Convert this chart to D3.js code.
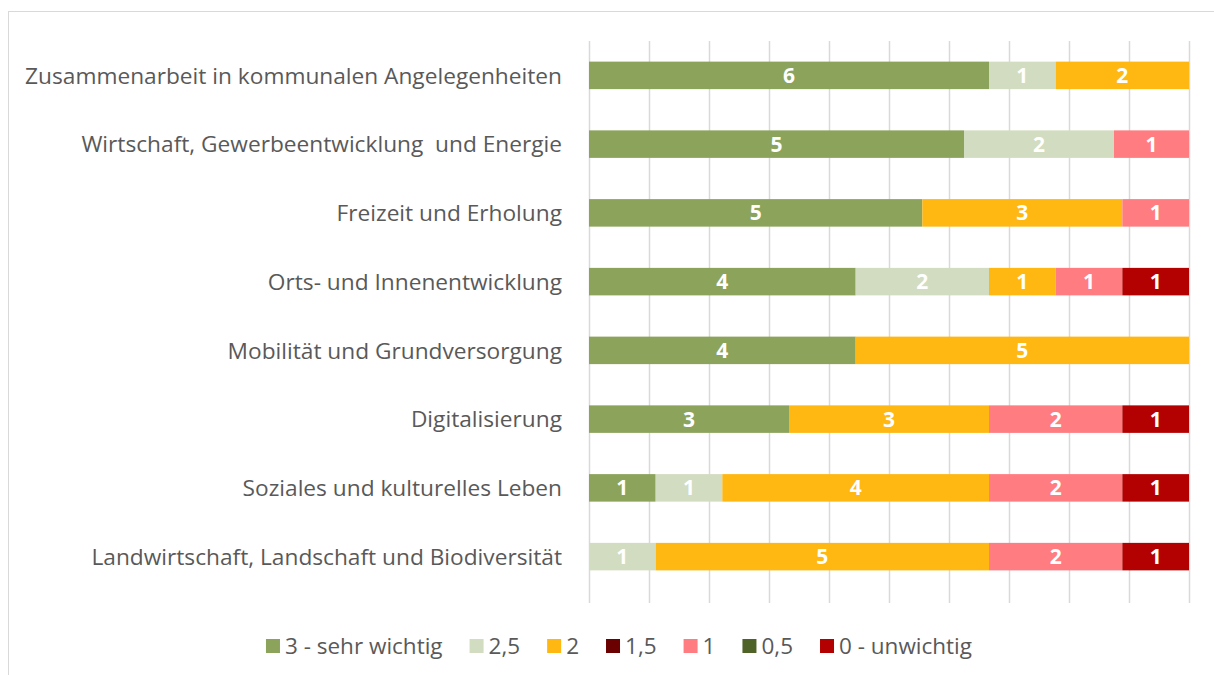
<!DOCTYPE html>
<html>
<head>
<meta charset="utf-8">
<script src="https://cdn.jsdelivr.net/npm/d3@7"></script>
<style>
  body { margin: 0; background: #fff; }
  svg { display: block; font-family: "Open Sans", "Noto Sans", sans-serif; }
  text { white-space: pre; }
</style>
</head>
<body>
<div id="chart"></div>
<script>
// themes, top to bottom
var categories = [
	"Zusammenarbeit in kommunalen Angelegenheiten",
	"Wirtschaft, Gewerbeentwicklung  und Energie",
	"Freizeit und Erholung",
	"Orts- und Innenentwicklung",
	"Mobilität und Grundversorgung",
	"Digitalisierung",
	"Soziales und kulturelles Leben",
	"Landwirtschaft, Landschaft und Biodiversität"
];

var seriesNames = ["3 - sehr wichtig", "2,5", "2", "1,5", "1", "0,5", "0 - unwichtig"];
var seriesColors = ["#8BA35B", "#D2DCC0", "#FFB711", "#6B0000", "#FF7C80", "#4F6228", "#B30000"];

// counts per category for each rating
var s3   = [6, 5, 5, 4, 4, 3, 1, 0];
var s2_5 = [1, 2, 0, 2, 0, 0, 1, 1];
var s2   = [2, 0, 3, 1, 5, 3, 4, 5];
var s1_5 = [0, 0, 0, 0, 0, 0, 0, 0];
var s1   = [0, 1, 1, 1, 0, 2, 2, 2];
var s0_5 = [0, 0, 0, 0, 0, 0, 0, 0];
var s0   = [0, 0, 0, 1, 0, 1, 1, 1];

var seriesValues = [s3, s2_5, s2, s1_5, s1, s0_5, s0];

var rows = categories.map(function(c, i) {
	var r = { name: c };
	seriesNames.forEach(function(s, j) { r[s] = seriesValues[j][i]; });
	return r;
});

var width = 1214, height = 675;

var svg = d3.select("#chart").append("svg")
	.attr("width", width)
	.attr("height", height);

// chart frame (runs off the page on right and bottom)
svg.append("rect")
	.attr("x", 8.5).attr("y", 11.5)
	.attr("width", 1300).attr("height", 800)
	.attr("fill", "none")
	.attr("stroke", "#d9d9d9")
	.attr("stroke-width", 1);

var x = d3.scaleLinear()
	.domain([0, 1])
	.range([589, 1189]);

var y = d3.scaleBand()
	.domain(categories)
	.range([41, 591])
	.paddingInner(0.6)
	.paddingOuter(0.3);

var color = d3.scaleOrdinal().domain(seriesNames).range(seriesColors);

// gridlines
svg.append("g")
	.selectAll("line")
	.data(d3.range(0, 11).map(function(d) { return d / 10; }))
	.enter().append("line")
	  .attr("x1", function(d) { return Math.round(x(d)) + 0.5; })
	  .attr("x2", function(d) { return Math.round(x(d)) + 0.5; })
	  .attr("y1", 41)
	  .attr("y2", 603)
	  .attr("stroke", "#d9d9d9")
	  .attr("stroke-width", 1.5);

var stack = d3.stack()
	.keys(seriesNames)
	.offset(d3.stackOffsetExpand);

var layers = stack(rows);

var layer = svg.append("g")
	.selectAll("g")
	.data(layers)
	.enter().append("g")
	  .attr("fill", function(d) { return color(d.key); });

layer.selectAll("rect")
	.data(function(d) { return d; })
	.enter().append("rect")
	  .attr("x", function(d) { return x(d[0]); })
	  .attr("width", function(d) { return x(d[1]) - x(d[0]); })
	  .attr("y", function(d) { return y(d.data.name); })
	  .attr("height", y.bandwidth());

// value labels
layers.forEach(function(l) {
	svg.append("g")
		.selectAll("text")
		.data(l.filter(function(d) { return d.data[l.key] > 0; }))
		.enter().append("text")
		  .attr("x", function(d) { return (x(d[0]) + x(d[1])) / 2; })
		  .attr("y", function(d) { return y(d.data.name) + y.bandwidth() / 2; })
		  .attr("dy", "0.36em")
		  .attr("text-anchor", "middle")
		  .attr("font-size", 21)
		  .attr("font-weight", "bold")
		  .attr("fill", "#fff")
		  .text(function(d) { return d.data[l.key]; });
});

// category labels
svg.append("g")
	.selectAll("text")
	.data(categories)
	.enter().append("text")
	  .attr("x", 562)
	  .attr("y", function(d) { return y(d) + y.bandwidth() / 2; })
	  .attr("dy", "0.36em")
	  .attr("text-anchor", "end")
	  .attr("font-size", 22.7)
	  .attr("fill", "#595959")
	  .text(function(d) { return d; });

// legend
var legend = svg.append("g");
var items = legend.selectAll("g")
	.data(seriesNames)
	.enter().append("g");

items.append("rect")
	.attr("width", 14).attr("height", 14)
	.attr("y", -7)
	.attr("fill", function(d) { return color(d); });

items.append("text")
	.attr("x", 19)
	.attr("dy", "0.36em")
	.attr("font-size", 22.5)
	.attr("fill", "#595959")
	.text(function(d) { return d; });

var gap = 27;
var pos = 0;
items.each(function() {
	var g = d3.select(this);
	g.attr("transform", "translate(" + pos + ",0)");
	pos += 19 + g.select("text").node().getComputedTextLength() + gap;
});
var legendWidth = pos - gap;
legend.attr("transform", "translate(" + (619 - legendWidth / 2) + ",646)");
</script>
</body>
</html>
